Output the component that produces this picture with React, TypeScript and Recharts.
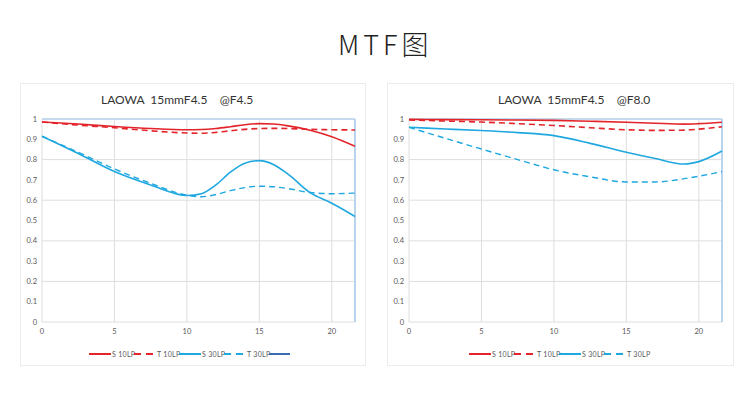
import React from "react";
import { LineChart, Line, XAxis, YAxis, CartesianGrid, ReferenceLine } from "recharts";

// image height (mm) at which values were read
const xsF45 = [0, 2.5, 5, 7.5, 10, 11, 12, 13, 14, 15, 16, 17, 18.5, 20, 21.6];
const s10F45 = [0.985, 0.975, 0.963, 0.953, 0.947, 0.948, 0.953, 0.962, 0.972, 0.977, 0.975, 0.966, 0.945, 0.913, 0.866];
const t10F45 = [0.985, 0.97, 0.957, 0.942, 0.931, 0.93, 0.934, 0.942, 0.949, 0.953, 0.954, 0.953, 0.949, 0.947, 0.946];
const s30F45 = [0.915, 0.83, 0.741, 0.675, 0.623, 0.632, 0.675, 0.738, 0.782, 0.795, 0.775, 0.727, 0.637, 0.585, 0.52];
const t30F45 = [0.915, 0.836, 0.754, 0.683, 0.625, 0.617, 0.628, 0.647, 0.662, 0.669, 0.666, 0.657, 0.638, 0.632, 0.635];

const xsF80 = [0, 2.5, 5, 7.5, 10, 12.5, 15, 17, 19, 20, 21.6];
const s10F80 = [0.998, 0.997, 0.996, 0.995, 0.993, 0.989, 0.984, 0.979, 0.975, 0.977, 0.984];
const t10F80 = [0.995, 0.99, 0.985, 0.977, 0.968, 0.957, 0.947, 0.944, 0.945, 0.95, 0.962];
const s30F80 = [0.959, 0.951, 0.943, 0.933, 0.918, 0.88, 0.836, 0.805, 0.778, 0.79, 0.842];
const t30F80 = [0.959, 0.905, 0.852, 0.8, 0.75, 0.715, 0.69, 0.69, 0.706, 0.718, 0.741];

const xTicks = [0, 5, 10, 15, 20];
const yTicks = [0, 0.1, 0.2, 0.3, 0.4, 0.5, 0.6, 0.7, 0.8, 0.9, 1];
const X_MAX = 21.6;

const RED = "#e3242b";
const BLUE = "#1fa8e0";
const NAVY = "#3b6cb0";
const FONT = "Lato, 'Liberation Sans', sans-serif";

const build = (xs: number[], s10: number[], t10: number[], s30: number[], t30: number[]) =>
  xs.map((x, i) => ({ x, s10: s10[i], t10: t10[i], s30: s30[i], t30: t30[i] }));

const tickStyle = { fontSize: 7.5, fill: "#595959", fontFamily: FONT };

interface LegendItem {
  label: string;
  color: string;
  dashed: boolean;
}

function LegendRow({ items, extra }: { items: LegendItem[]; extra?: string }) {
  return (
    <div style={{ display: "flex", alignItems: "center", fontSize: 7, color: "#595959", fontFamily: FONT, letterSpacing: 0.3 }}>
      {items.map((it) => (
        <span key={it.label} style={{ display: "flex", alignItems: "center" }}>
          <svg width={it.dashed ? 19 : 22} height={4}>
            <line x1={0} x2={it.dashed ? 19 : 22} y1={2} y2={2} stroke={it.color} strokeWidth={2} strokeDasharray={it.dashed ? "7 5" : undefined} />
          </svg>
          <span style={{ width: 22, marginLeft: it.dashed ? 4 : 1, whiteSpace: "pre" }}>{it.label}</span>
        </span>
      ))}
      {extra && (
        <svg width={21} height={4}>
          <line x1={0} x2={21} y1={2} y2={2} stroke={extra} strokeWidth={2} />
        </svg>
      )}
    </div>
  );
}

function Panel({ left, width, title, titleLeft, data, legendLeft, legend, extra, right }: {
  left: number; width: number; title: string; titleLeft: number; data: any[];
  legendLeft: number; legend: LegendItem[]; extra?: string; right: number;
}) {
  return (
    <div style={{ position: "absolute", left, top: 83, width, height: 283, border: "1px solid #ececec", boxSizing: "border-box" }}>
      <div style={{ position: "absolute", left: titleLeft, top: 8, fontSize: 12, color: "#333", whiteSpace: "pre", fontFamily: FONT }}>
        {title}
      </div>
      <div style={{ position: "absolute", left: -1, top: -1 }}>
        <LineChart width={width} height={283} data={data} margin={{ top: 36, right, left: 0, bottom: 14 }}>
          <CartesianGrid stroke="#dedede" strokeWidth={1} />
          <XAxis dataKey="x" type="number" domain={[0, X_MAX]} ticks={xTicks} tick={tickStyle} axisLine={false} tickLine={false} tickSize={4} tickMargin={3} />
          <YAxis type="number" domain={[0, 1]} ticks={yTicks} tick={tickStyle} width={22} axisLine={false} tickLine={false} tickSize={3} tickMargin={2} tickFormatter={(v: number) => (v === 0 || v === 1 ? String(v) : v.toFixed(1))} />
          <ReferenceLine y={1} stroke="#b8d3ec" strokeWidth={1.5} />
          <ReferenceLine x={X_MAX} stroke="#b8d3ec" strokeWidth={2} />
          <Line type="monotone" dataKey="t10" stroke={RED} strokeWidth={1.6} strokeDasharray="6 4" dot={false} isAnimationActive={false} />
          <Line type="monotone" dataKey="s10" stroke={RED} strokeWidth={1.6} dot={false} isAnimationActive={false} />
          <Line type="monotone" dataKey="t30" stroke={BLUE} strokeWidth={1.4} strokeDasharray="6 4" dot={false} isAnimationActive={false} />
          <Line type="monotone" dataKey="s30" stroke={BLUE} strokeWidth={1.6} dot={false} isAnimationActive={false} />
        </LineChart>
      </div>
      <div style={{ position: "absolute", left: legendLeft, top: 266 }}>
        <LegendRow items={legend} extra={extra} />
      </div>
    </div>
  );
}

const legendF45: LegendItem[] = [
  { label: "S 10LP", color: RED, dashed: false },
  { label: "T 10LP", color: RED, dashed: true },
  { label: "S 30LP", color: BLUE, dashed: false },
  { label: "T 30LP", color: BLUE, dashed: true },
];
const legendF80: LegendItem[] = [
  { label: "S 10LP", color: RED, dashed: false },
  { label: "T 10LP", color: RED, dashed: true },
  { label: "S 30LP", color: BLUE, dashed: false },
  { label: "T 30LP", color: BLUE, dashed: true },
];

export default function App() {
  return (
    <div style={{ position: "absolute", left: 0, top: 0, width: 750, height: 398, background: "#fff", overflow: "hidden" }}>
      <div style={{ position: "absolute", left: 338, top: 24, fontSize: 27, fontWeight: 300, letterSpacing: 4, color: "#222", fontFamily: "Noto Sans CJK SC, sans-serif", whiteSpace: "pre" }}>
        MTF图
      </div>
      <Panel left={20} width={346} title={"LAOWA  15mmF4.5    @F4.5"} titleLeft={80} data={build(xsF45, s10F45, t10F45, s30F45, t30F45)} legendLeft={68} legend={legendF45} extra={NAVY} right={11} />
      <Panel left={387} width={347} title={"LAOWA  15mmF4.5    @F8.0"} titleLeft={110} data={build(xsF80, s10F80, t10F80, s30F80, t30F80)} legendLeft={81} legend={legendF80} right={12} />
    </div>
  );
}
